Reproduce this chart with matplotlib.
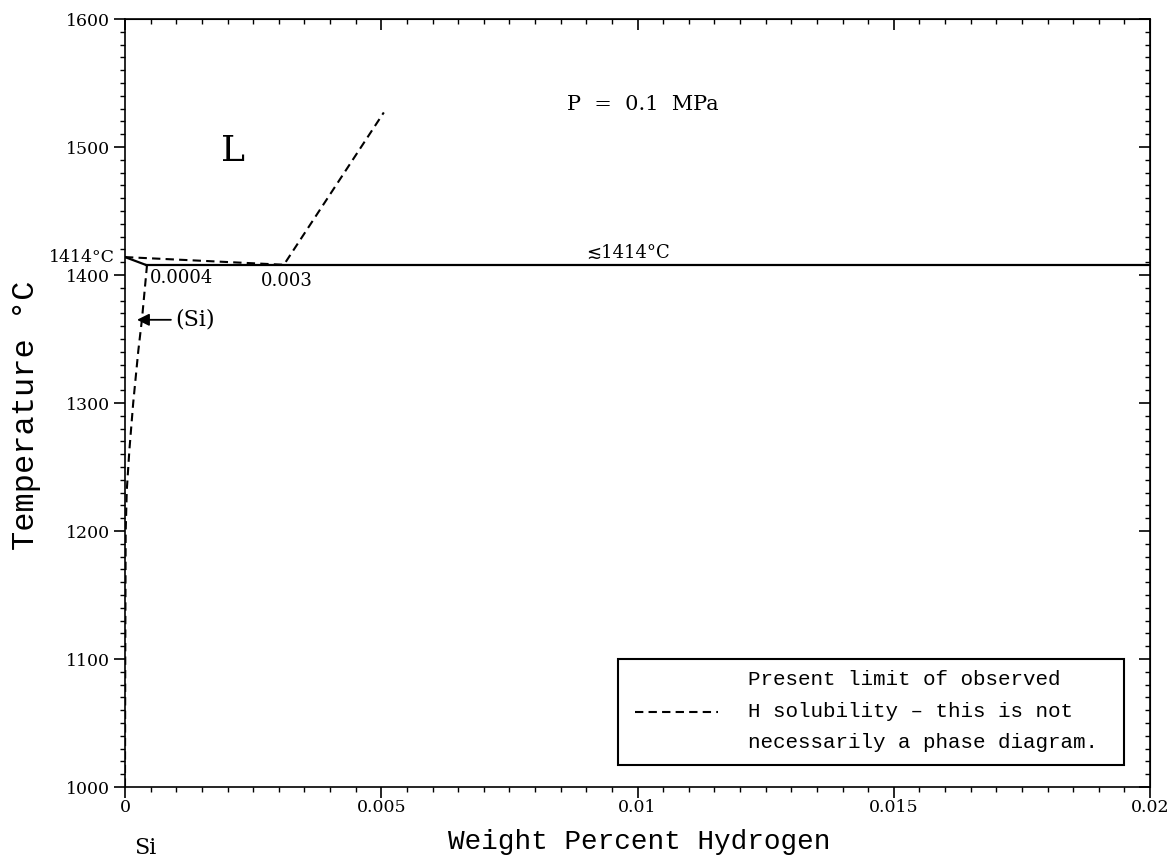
import matplotlib
matplotlib.use("Agg")
import matplotlib.pyplot as plt
from matplotlib.patches import Rectangle
from matplotlib.lines import Line2D
from matplotlib.ticker import MultipleLocator

plt.rcParams['font.family'] = ['DejaVu Serif', 'DejaVu Sans']
MONO = ['Liberation Mono', 'DejaVu Sans Mono']

# ---- data (wt.% H, temperature °C) ----
liq_solid_x = [0.0, 0.0004]
liq_solid_T = [1414, 1408]
eutectic_x = [0.0004, 0.02]
eutectic_T = [1408, 1408]
dash_liq_x = [0.0, 0.0031, 0.00505]
dash_liq_T = [1414, 1408, 1527]
solvus_x = [0.00043, 0.00033, 0.00026, 0.00016, 0.000085, 0.000035, 0.000013, 0.000005, 0.0]
solvus_T = [1408, 1365, 1341, 1300, 1263, 1232, 1199, 1100, 1000]
xticks = [0, 0.005, 0.01, 0.015, 0.02]
xticklabels = ['0', '0.005', '0.01', '0.015', '0.02']
yticks = [1000, 1100, 1200, 1300, 1400, 1500, 1600]

fig = plt.figure(figsize=(11.75, 8.58), dpi=100)
ax = fig.add_axes([125/1175, 1-787/858, 1025/1175, 768/858])
ax.set_xlim(0, 0.02)
ax.set_ylim(1000, 1600)

ax.plot(liq_solid_x, liq_solid_T, color='black', lw=1.6)
ax.plot(eutectic_x, eutectic_T, color='black', lw=1.6)
ax.plot(dash_liq_x, dash_liq_T, color='black', lw=1.5, dashes=(4, 2.5))
ax.plot(solvus_x, solvus_T, color='black', lw=1.5, dashes=(4, 2.5))

# ticks
ax.set_xticks(xticks)
ax.set_xticklabels(xticklabels)
ax.set_yticks(yticks)
ax.xaxis.set_minor_locator(MultipleLocator(0.0005))
ax.yaxis.set_minor_locator(MultipleLocator(10))
ax.tick_params(which='major', direction='out', length=8, width=1.2)
ax.tick_params(which='minor', direction='out', length=3.8, width=1)
ax.tick_params(axis='x', which='major', labelsize=12.5, pad=1)
ax.tick_params(axis='y', which='major', labelsize=12.5, pad=3)
for s in ax.spines.values():
    s.set_linewidth(1.2)

secx = ax.secondary_xaxis('top')
secx.set_xticks(xticks)
secx.xaxis.set_minor_locator(MultipleLocator(0.0005))
secx.tick_params(which='major', direction='in', length=8, width=1.2, labeltop=False)
secx.tick_params(which='minor', direction='in', length=3.8, width=1)
secy = ax.secondary_yaxis('right')
secy.set_yticks(yticks)
secy.yaxis.set_minor_locator(MultipleLocator(10))
secy.tick_params(which='major', direction='in', length=8, width=1.2, labelright=False)
secy.tick_params(which='minor', direction='in', length=3.8, width=1)

fig.text(639/1175, 1-842/858, 'Weight Percent Hydrogen', ha='center', va='center',
         fontsize=20, family=MONO)
fig.text(26/1175, 1-415/858, 'Temperature °C', ha='center', va='center',
         rotation=90, fontsize=23, family=MONO)

# annotations
ax.text(-0.0002, 1414, '1414°C', ha='right', va='center', fontsize=12.5)
ax.text(0.00048, 1405, '0.0004', ha='left', va='top', fontsize=13)
ax.text(0.00265, 1402, '0.003', ha='left', va='top', fontsize=13)
ax.text(0.00981, 1410, '≲1414°C', ha='center', va='bottom', fontsize=13)
ax.text(0.0021, 1497, 'L', ha='center', va='center', fontsize=26)
ax.text(0.0101, 1533, 'P  =  0.1  MPa', ha='center', va='center', fontsize=15)
ax.annotate('', xy=(0.00018, 1365), xytext=(0.00095, 1365),
            arrowprops=dict(arrowstyle='-|>', color='black', lw=1.3, mutation_scale=18))
ax.text(0.00098, 1365, '(Si)', ha='left', va='center', fontsize=16)
ax.text(0.0004, 952, 'Si', ha='center', va='center', fontsize=16, clip_on=False)

# legend box
ax.add_patch(Rectangle((0.00962, 1017.2), 0.00987, 82.8, transform=ax.transData,
                       fill=False, edgecolor='black', lw=1.5))
ax.add_line(Line2D([0.00995, 0.01157], [1058.6, 1058.6], color='black', lw=1.5,
                   dashes=(4, 2.5)))
ax.text(0.01216, 1083.6, 'Present limit of observed', ha='left', va='center',
        fontsize=15, family=MONO)
ax.text(0.01216, 1058.6, 'H solubility \u2013 this is not', ha='left', va='center',
        fontsize=15, family=MONO)
ax.text(0.01216, 1034.4, 'necessarily a phase diagram.', ha='left', va='center',
        fontsize=15, family=MONO)

fig.savefig('out.png', dpi=100)
